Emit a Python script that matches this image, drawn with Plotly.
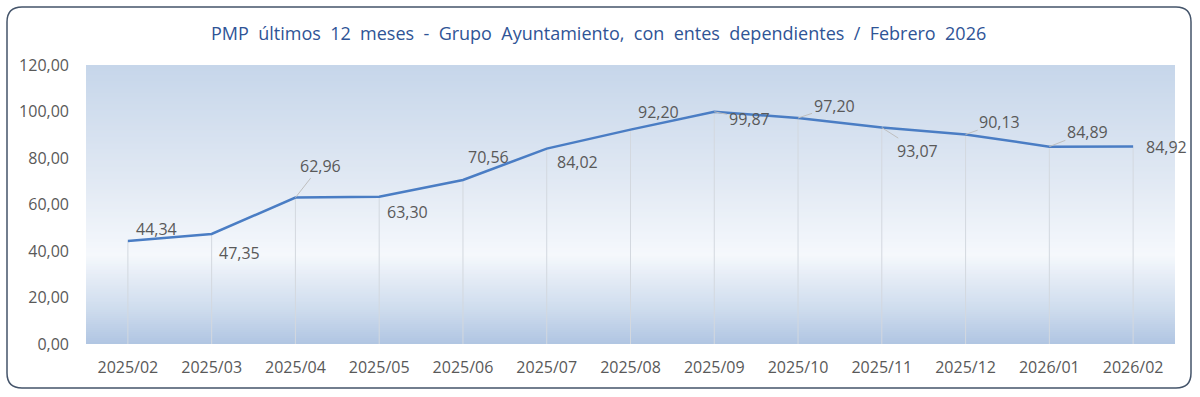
import plotly.graph_objects as go

# ---- data ----
months = ["2025/02", "2025/03", "2025/04", "2025/05", "2025/06", "2025/07", "2025/08",
          "2025/09", "2025/10", "2025/11", "2025/12", "2026/01", "2026/02"]
pmp = [44.34, 47.35, 62.96, 63.30, 70.56, 84.02, 92.20, 99.87, 97.20, 93.07, 90.13, 84.89, 84.92]
y_ticks = [0, 20, 40, 60, 80, 100, 120]
title_text = "PMP últimos 12 meses - Grupo Ayuntamiento, con entes dependientes / Febrero 2026"

# ---- styling (label offsets in pixels, leader-line flags) ----
label_dx = [29, 28, 25, 28, 26, 31, 28, 35, 36, 36, 34, 38, 33]
label_dy = [-12, 19, -32, 15, -23, 13, -18, 7, -12, 23, -12, -15, 0]
leader = [False, False, True, False, False, False, False, True, True, True, True, True, False]

W, H = 1200, 397
L, R, T, B = 86, 1175, 65, 344
FONT = "Open Sans"
GREY = "#595959"

def xp(px):
    return (px - L) / (R - L)

def yp(py):
    return (B - py) / (B - T)

fig = go.Figure()

# drop lines from each point to the axis
dx, dy = [], []
for m, v in zip(months, pmp):
    dx += [m, m, None]
    dy += [v, 0, None]
fig.add_trace(go.Scatter(x=dx, y=dy, mode="lines", line=dict(color="#D3D8DF", width=1),
                         hoverinfo="skip", showlegend=False))

fig.add_trace(go.Scatter(x=months, y=pmp, mode="lines",
                         line=dict(color="#4A7DC4", width=2.5), showlegend=False))

annotations = []
for i, (m, v) in enumerate(zip(months, pmp)):
    annotations.append(dict(
        x=m, y=v, xref="x", yref="y",
        text=f"{v:.2f}".replace(".", ","),
        showarrow=True, arrowhead=0, arrowwidth=1,
        arrowcolor="#BFBFBF" if leader[i] else "rgba(0,0,0,0)",
        ax=label_dx[i], ay=label_dy[i], standoff=0,
        font=dict(family=FONT, size=16, color=GREY)))

# title (wide word spacing as in the original)
annotations.append(dict(x=xp(598), y=yp(33), xref="paper", yref="paper",
                        text=title_text.replace(" ", "\u00a0 "),
                        showarrow=False, xanchor="center", yanchor="middle",
                        font=dict(family=FONT, size=18, color="#2F5496")))

# gradient background of plot area
def lerp(c1, c2, t):
    return tuple(round(a + (b - a) * t) for a, b in zip(c1, c2))

stops = [(0.0, (176, 197, 226)), (0.12, (205, 219, 237)), (0.32, (245, 248, 252)),
         (0.6, (224, 232, 243)), (1.0, (198, 214, 234))]

def color_at(t):
    for (t0, c0), (t1, c1) in zip(stops[:-1], stops[1:]):
        if t0 <= t <= t1:
            return lerp(c0, c1, (t - t0) / (t1 - t0))
    return stops[-1][1]

shapes = []
N = 140
for k in range(N):
    y0 = k / N
    y1 = min(1.0, (k + 1) / N + 0.004)
    c = color_at((k + 0.5) / N)
    shapes.append(dict(type="rect", xref="paper", yref="paper", x0=0, x1=1, y0=y0, y1=y1,
                       fillcolor="rgb(%d,%d,%d)" % c, line=dict(width=0), layer="below"))

# rounded outer border
bl, bt, br, bb, r = 7, 7, 1191, 388, 15
path = (f"M {xp(bl + r)},{yp(bt)} L {xp(br - r)},{yp(bt)} Q {xp(br)},{yp(bt)} {xp(br)},{yp(bt + r)} "
        f"L {xp(br)},{yp(bb - r)} Q {xp(br)},{yp(bb)} {xp(br - r)},{yp(bb)} "
        f"L {xp(bl + r)},{yp(bb)} Q {xp(bl)},{yp(bb)} {xp(bl)},{yp(bb - r)} "
        f"L {xp(bl)},{yp(bt + r)} Q {xp(bl)},{yp(bt)} {xp(bl + r)},{yp(bt)} Z")
shapes.append(dict(type="path", xref="paper", yref="paper", path=path,
                   line=dict(color="#44546A", width=1.5), fillcolor="rgba(0,0,0,0)", layer="above"))

fig.update_layout(
    width=W, height=H,
    margin=dict(l=L, r=W - R, t=T, b=H - B, pad=0),
    paper_bgcolor="white", plot_bgcolor="rgba(0,0,0,0)",
    separators=",.",
    showlegend=False,
    annotations=annotations,
    shapes=shapes,
    font=dict(family=FONT, size=16, color=GREY),
)
fig.update_xaxes(type="category", range=[-0.5, len(months) - 0.5], showgrid=False,
                 zeroline=False, showline=False, ticks="", ticklabelstandoff=12,
                 tickfont=dict(family=FONT, size=16, color=GREY), fixedrange=True)
fig.update_yaxes(range=[0, 120], tickvals=y_ticks, tickformat=".2f", showgrid=False,
                 zeroline=False, showline=False, ticks="", ticklabelstandoff=16,
                 tickfont=dict(family=FONT, size=16, color=GREY), fixedrange=True)

fig.write_html("out.html", config={"displayModeBar": False},
               post_script="document.body.style.margin='0px';document.body.style.overflow='hidden';")
